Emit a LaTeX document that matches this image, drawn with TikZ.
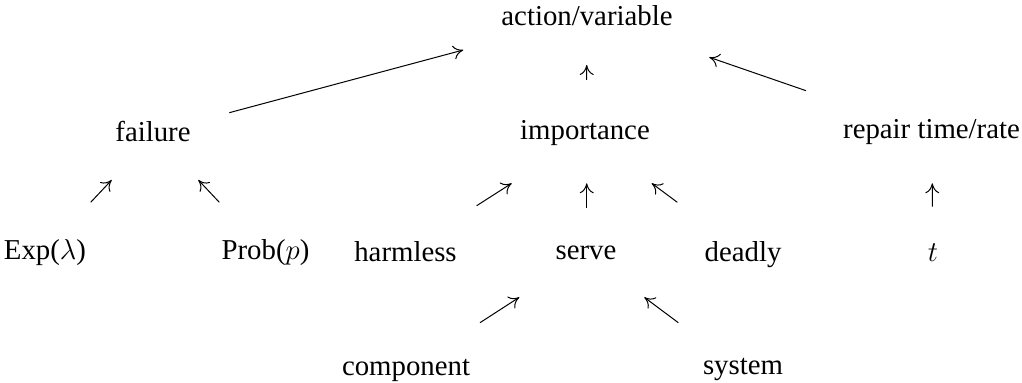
\documentclass[tikz,border=0pt]{standalone}
\usepackage{fontspec}
\setmainfont{Liberation Serif}
\usetikzlibrary{calc,arrows.meta}
\begin{document}
\begin{tikzpicture}[x=0.5pt,y=-0.5pt,
  lbl/.style={anchor=base,inner sep=0pt,font=\fontsize{14.4}{17}\selectfont},
  arr/.style={line width=0.5pt,-{To[length=5pt,width=7pt]}}]
\useasboundingbox (0,0) rectangle (1022,383);
% top level
\node[lbl] (action) at (587,26) {action/variable};
% middle level
\node[lbl] (failure) at (153,141.7) {failure};
\node[lbl] (importance) at (585,139.3) {importance};
\node[lbl] (repair) at (931.5,139) {repair time/rate};
% lower level
\node[lbl] (exp) at (45,259.3) {Exp($\lambda$)};
\node[lbl] (prob) at (265.5,259.3) {Prob($p$)};
\node[lbl] (harmless) at (405.5,261.7) {harmless};
\node[lbl] (serve) at (586,260) {serve};
\node[lbl] (deadly) at (743,261.7) {deadly};
\node[lbl] (t) at (933,261.7) {$t$};
% bottom level
\node[lbl] (component) at (406,376) {component};
\node[lbl] (system) at (743,375) {system};
% connectors
\draw[arr] ($(failure.base)+(76.3,-29)$) -- ($(action.base)+(-123.7,24)$);
\draw[arr] ($(importance.base)+(1.7,-59.3)$) -- ($(action.base)+(-0.3,39)$);
\draw[arr] ($(repair.base)+(-125.5,-48.3)$) -- ($(action.base)+(122.3,31.3)$);
\draw[arr] ($(exp.base)+(45.7,-57)$) -- ($(failure.base)+(-41.3,38.3)$);
\draw[arr] ($(prob.base)+(-46.2,-57)$) -- ($(failure.base)+(45.3,38.3)$);
\draw[arr] ($(harmless.base)+(71.2,-56)$) -- ($(importance.base)+(-73.3,44)$);
\draw[arr] ($(serve.base)+(0.7,-51.7)$) -- ($(importance.base)+(1.7,44)$);
\draw[arr] ($(deadly.base)+(-65.7,-59.4)$) -- ($(importance.base)+(66.7,44)$);
\draw[arr] ($(t.base)+(-0.7,-55)$) -- ($(repair.base)+(0.8,44.3)$);
\draw[arr] ($(component.base)+(74,-53.3)$) -- ($(serve.base)+(-66.7,37.3)$);
\draw[arr] ($(system.base)+(-64.7,-52.3)$) -- ($(serve.base)+(58.3,37.3)$);
\end{tikzpicture}
\end{document}
